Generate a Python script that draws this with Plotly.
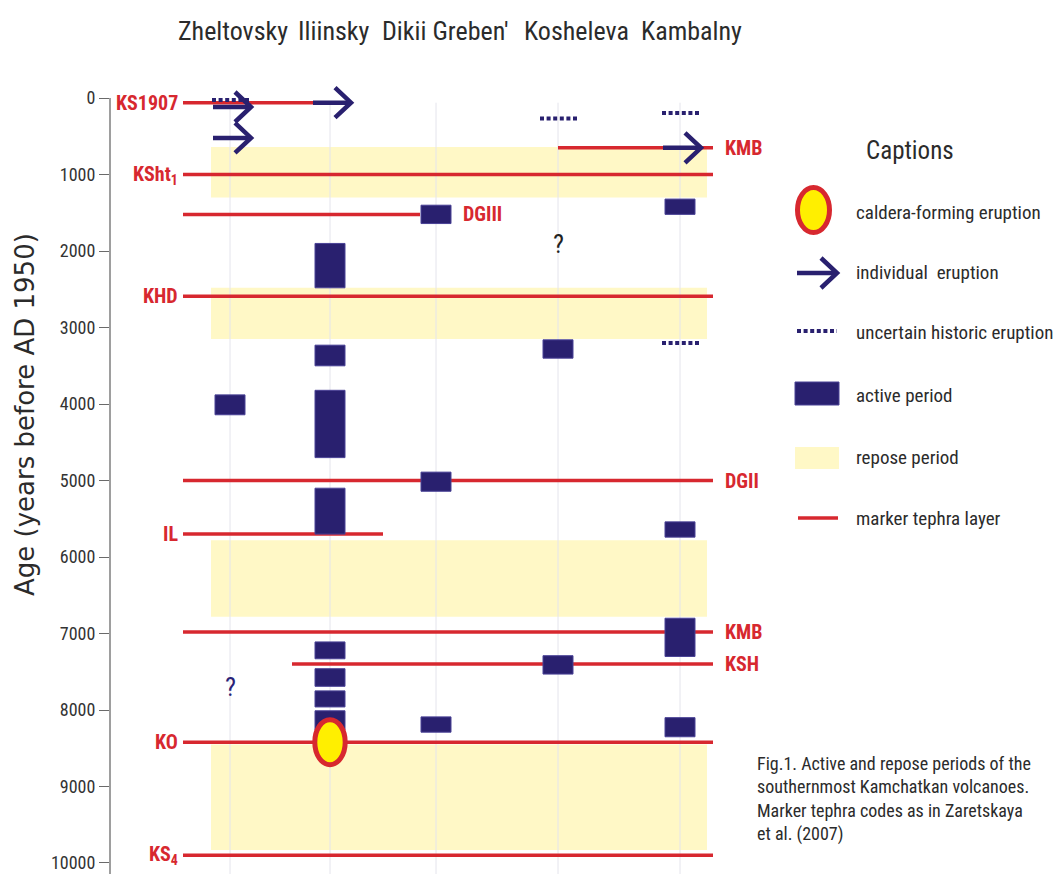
import plotly.graph_objects as go

# ---------------------------------------------------------------- data
VOLCANOES = ["Zheltovsky", "Iliinsky", "Dikii Greben'", "Kosheleva", "Kambalny"]
COLUMN_X = [1.20, 2.20, 3.26, 4.48, 5.70]          # column centres (x units)
HEADER_X = [1.23, 2.24, 3.35, 4.66, 5.81]          # column title centres

# active periods (years BP)
ACTIVE_VOLCANO = ["Zheltovsky",
                  "Iliinsky", "Iliinsky", "Iliinsky", "Iliinsky",
                  "Iliinsky", "Iliinsky", "Iliinsky", "Iliinsky",
                  "Dikii Greben'", "Dikii Greben'", "Dikii Greben'",
                  "Kosheleva", "Kosheleva",
                  "Kambalny", "Kambalny", "Kambalny", "Kambalny"]
ACTIVE_FROM = [3880,
               1900, 3230, 3820, 5100, 7110, 7460, 7750, 8010,
               1400, 4890, 8090,
               3160, 7290,
               1320, 5540, 6800, 8100]
ACTIVE_TO = [4140,
             2480, 3500, 4700, 5700, 7330, 7690, 7960, 8260,
             1640, 5140, 8290,
             3400, 7530,
             1520, 5740, 7300, 8350]

# repose periods (years BP)
REPOSE_FROM = [640, 2480, 5780, 8450]
REPOSE_TO = [1300, 3150, 6780, 9830]

# marker tephra layers
TEPHRA_CODE = ["KS1907", "KMB", "KSht<sub>1</sub>", "DGIII", "KHD", "DGII",
               "IL", "KMB", "KSH", "KO", "KS<sub>4</sub>"]
TEPHRA_AGE = [60, 650, 1000, 1520, 2590, 5000, 5700, 6980, 7400, 8420, 9900]
TEPHRA_FROM = [0.73, 4.48, 0.73, 0.73, 0.73, 0.73, 0.73, 0.73, 1.82, 0.73, 0.73]
TEPHRA_TO = [2.05, 6.03, 6.03, 3.10, 6.03, 6.03, 2.73, 6.03, 6.03, 6.03, 6.03]
TEPHRA_SIDE = ["left", "right", "left", "right", "left", "right",
               "left", "right", "right", "left", "left"]

# individual eruptions
ERUPTION_VOLCANO = ["Zheltovsky", "Zheltovsky", "Iliinsky", "Kambalny"]
ERUPTION_AGE = [116, 520, 60, 650]

# uncertain historic eruptions
UNCERTAIN_VOLCANO = ["Zheltovsky", "Kosheleva", "Kambalny", "Kambalny"]
UNCERTAIN_AGE = [25, 265, 195, 3200]

# caldera-forming eruption
CALDERA_VOLCANO = "Iliinsky"
CALDERA_AGE = 8420

# unresolved records
QUERY_VOLCANO = ["Kosheleva", "Zheltovsky"]
QUERY_AGE = [1910, 7700]
QUERY_COLOR = ["#222222", "#2a2277"]

Y_TICKS = list(range(0, 10001, 1000))

# ---------------------------------------------------------------- style
W, H = 1057, 874
AXIS_PX, TOP_PX = 110, 79
NAVY = "#29206f"
RED = "#d7282f"
YELLOW_BAND = "#fff8c6"
NARROW = "Liberation Sans Narrow, Arial Narrow, Roboto Condensed, sans-serif"
GREY_TXT = "#2b2b2b"

X_RANGE = [0, 9.47]
Y_RANGE = [10144, -250]
BLOCK_HALF = 0.15
YR_PER_PX = (Y_RANGE[0] - Y_RANGE[1]) / (H - TOP_PX)

col = dict(zip(VOLCANOES, COLUMN_X))


def px(x):
    return x / W


def py(y):
    return 1 - y / H


fig = go.Figure()
shapes = []
annotations = []

# repose bands
for a, b in zip(REPOSE_FROM, REPOSE_TO):
    shapes.append(dict(type="rect", xref="x", yref="y", x0=1.01, x1=5.97,
                       y0=a, y1=b, fillcolor=YELLOW_BAND, line_width=0,
                       layer="below"))

# faint column guides
for x in COLUMN_X:
    shapes.append(dict(type="line", xref="x", yref="y", x0=x, x1=x,
                       y0=60, y1=Y_RANGE[0], line=dict(color="#e4e4ec", width=1),
                       layer="below"))

# y axis line
shapes.append(dict(type="line", xref="paper", yref="y",
                   x0=px(AXIS_PX), x1=px(AXIS_PX),
                   y0=0, y1=Y_RANGE[0], line=dict(color="#6a6a6a", width=1.3)))

# tephra lines
tx, ty = [], []
for a, x0, x1 in zip(TEPHRA_AGE, TEPHRA_FROM, TEPHRA_TO):
    tx += [x0, x1, None]
    ty += [a, a, None]
fig.add_trace(go.Scatter(x=tx, y=ty, mode="lines",
                         line=dict(color=RED, width=3.5), hoverinfo="skip",
                         showlegend=False))

# active blocks
for v, a, b in zip(ACTIVE_VOLCANO, ACTIVE_FROM, ACTIVE_TO):
    c = col[v]
    shapes.append(dict(type="rect", xref="x", yref="y",
                       x0=c - BLOCK_HALF, x1=c + BLOCK_HALF, y0=a, y1=b,
                       fillcolor=NAVY, line=dict(color="#4a4296", width=1)))

# tephra labels (right-hand labels clear any block sitting on the line end)
for code, a, x0, x1, side in zip(TEPHRA_CODE, TEPHRA_AGE, TEPHRA_FROM,
                                 TEPHRA_TO, TEPHRA_SIDE):
    if side == "left":
        xa, anchor = x0 - 0.03, "right"
    else:
        edge = x1
        for v, f, t in zip(ACTIVE_VOLCANO, ACTIVE_FROM, ACTIVE_TO):
            left, right = col[v] - BLOCK_HALF, col[v] + BLOCK_HALF
            if f <= a <= t and left <= x1 + 0.05 and right > edge:
                edge = right
        xa, anchor = edge + 0.10, "left"
    annotations.append(dict(x=xa, y=a, xref="x", yref="y", text=code,
                            showarrow=False, xanchor=anchor, yanchor="middle",
                            font=dict(family=NARROW, size=20, color=RED,
                                      weight="bold")))

# uncertain eruptions (dotted)
ux, uy = [], []
for v, a in zip(UNCERTAIN_VOLCANO, UNCERTAIN_AGE):
    ux += [col[v] - 0.18, col[v] + 0.21, None]
    uy += [a, a, None]
fig.add_trace(go.Scatter(x=ux, y=uy, mode="lines",
                         line=dict(color=NAVY, width=4, dash="4px,2.6px"),
                         hoverinfo="skip", showlegend=False))

# individual eruption arrows
HEAD_DX = 0.16
HEAD_DY = 15 * YR_PER_PX
ax, ay = [], []
for v, a in zip(ERUPTION_VOLCANO, ERUPTION_AGE):
    s, e = col[v] - 0.17, col[v] + 0.21
    ax += [s, e, None, e - HEAD_DX, e, e - HEAD_DX, None]
    ay += [a, a, None, a - HEAD_DY, a, a + HEAD_DY, None]
fig.add_trace(go.Scatter(x=ax, y=ay, mode="lines",
                         line=dict(color=NAVY, width=4.5), hoverinfo="skip",
                         showlegend=False))

# caldera-forming eruption
cx = col[CALDERA_VOLCANO]
shapes.append(dict(type="circle", xref="x", yref="y",
                   x0=cx - 0.152, x1=cx + 0.152,
                   y0=CALDERA_AGE - 22.5 * YR_PER_PX,
                   y1=CALDERA_AGE + 22.5 * YR_PER_PX,
                   fillcolor="#ffef00", line=dict(color=RED, width=5)))

# question marks
for v, a, c in zip(QUERY_VOLCANO, QUERY_AGE, QUERY_COLOR):
    annotations.append(dict(x=col[v], y=a, xref="x", yref="y", text="?",
                            showarrow=False, xanchor="center",
                            yanchor="middle",
                            font=dict(family=NARROW, size=26, color=c)))

# column titles
for name, x in zip(VOLCANOES, HEADER_X):
    annotations.append(dict(x=x, y=py(31), xref="x", yref="paper", text=name,
                            showarrow=False, xanchor="center",
                            yanchor="middle",
                            font=dict(family=NARROW, size=26, color=GREY_TXT)))

# axis title
annotations.append(dict(x=px(25), y=py(415), xref="paper", yref="paper",
                        text="Age (years before AD 1950)", textangle=-90,
                        showarrow=False, xanchor="center", yanchor="middle",
                        font=dict(family="DejaVu Sans", size=26,
                                  color=GREY_TXT)))

# ---------------------------------------------------------------- captions
annotations.append(dict(x=px(910), y=py(150), xref="paper", yref="paper",
                        text="Captions", showarrow=False, xanchor="center",
                        yanchor="middle",
                        font=dict(family=NARROW, size=25, color=GREY_TXT)))

LEGEND_TEXT = ["caldera-forming eruption", "individual  eruption",
               "uncertain historic eruption", "active period",
               "repose period", "marker tephra layer"]
LEGEND_Y = [212, 273, 333, 395, 457, 518]
for t, y in zip(LEGEND_TEXT, LEGEND_Y):
    annotations.append(dict(x=px(854), y=py(y), xref="paper", yref="paper",
                            text=t, showarrow=False, xanchor="left",
                            yanchor="middle",
                            font=dict(family=NARROW, size=19, color=GREY_TXT)))

shapes.append(dict(type="circle", xref="paper", yref="paper",
                   x0=px(797.5), x1=px(829.5), y0=py(232.5), y1=py(187.5),
                   fillcolor="#ffef00", line=dict(color=RED, width=5)))
shapes.append(dict(type="line", xref="paper", yref="paper",
                   x0=px(797), x1=px(837), y0=py(273), y1=py(273),
                   line=dict(color=NAVY, width=4.5)))
shapes.append(dict(type="path", xref="paper", yref="paper",
                   path=f"M {px(821)} {py(258)} L {px(837)} {py(273)} L {px(821)} {py(288)}",
                   line=dict(color=NAVY, width=4.5)))
shapes.append(dict(type="line", xref="paper", yref="paper",
                   x0=px(797), x1=px(837), y0=py(331), y1=py(331),
                   line=dict(color=NAVY, width=4, dash="4px,2.6px")))
shapes.append(dict(type="rect", xref="paper", yref="paper",
                   x0=px(795), x1=px(839), y0=py(405), y1=py(382),
                   fillcolor=NAVY, line=dict(color="#4a4296", width=1)))
shapes.append(dict(type="rect", xref="paper", yref="paper",
                   x0=px(795), x1=px(839), y0=py(469), y1=py(447),
                   fillcolor=YELLOW_BAND, line_width=0))
shapes.append(dict(type="line", xref="paper", yref="paper",
                   x0=px(798), x1=px(838), y0=py(518), y1=py(518),
                   line=dict(color=RED, width=3.5)))

annotations.append(dict(
    x=px(755), y=py(751), xref="paper", yref="paper", xanchor="left",
    yanchor="top", align="left", showarrow=False,
    text=("Fig.1. Active and repose periods of the<br>"
          "southernmost Kamchatkan volcanoes.<br>"
          "Marker tephra codes as in Zaretskaya<br>"
          "et al. (2007)"),
    font=dict(family=NARROW, size=18, color=GREY_TXT)))

fig.update_layout(
    width=W, height=H,
    margin=dict(l=0, r=0, t=0, b=0),
    paper_bgcolor="white", plot_bgcolor="white",
    showlegend=False,
    shapes=shapes, annotations=annotations,
    xaxis=dict(domain=[AXIS_PX / W, 1], range=X_RANGE, visible=False,
               fixedrange=True),
    yaxis=dict(domain=[0, 1 - TOP_PX / H], range=Y_RANGE,
               tickvals=Y_TICKS, ticktext=[str(v) for v in Y_TICKS],
               ticks="outside", ticklen=10, tickcolor="#6a6a6a", tickwidth=1.3,
               showgrid=False, zeroline=False, showline=False,
               tickfont=dict(family=NARROW, size=18, color="#333333"),
               fixedrange=True),
)

fig.write_html("out.html")
